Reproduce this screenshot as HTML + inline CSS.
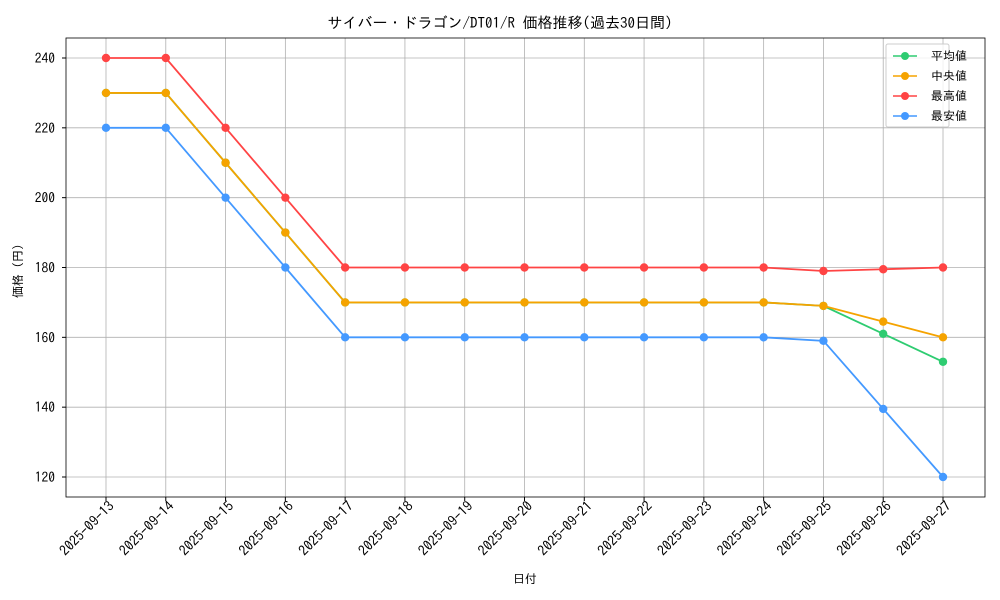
<!DOCTYPE html>
<html><head><meta charset="utf-8"><style>body{margin:0;background:#fff}svg{display:block;font-family:"IPAGothic","Noto Sans CJK JP",sans-serif}</style></head><body>
<svg width="1000" height="600" xmlns="http://www.w3.org/2000/svg">
<rect width="1000" height="600" fill="#fff"/>
<g id="grid" stroke="#b0b0b0" stroke-width="0.8"></g>
<rect x="66" y="38" width="919" height="459" fill="none" stroke="#000" stroke-width="0.8"/>
<g id="ticks"></g>
<g id="series"></g>
<text x="500" y="28" font-size="15" text-anchor="middle">サイバー・ドラゴン/DT01/R 価格推移(過去30日間)</text>
<text x="525" y="583" font-size="12" text-anchor="middle">日付</text>
<text transform="translate(22,268) rotate(-90)" font-size="12" text-anchor="middle">価格（円）</text>
<rect x="886" y="44" width="63" height="83" fill="#fff" fill-opacity="0.8" stroke="#ccc" rx="2"/>
<g font-size="12">
<line x1="893" y1="56" x2="917" y2="56" stroke="#2ecc71" stroke-width="1.5"/><circle cx="905" cy="56" r="4" fill="#2ecc71"/><text x="931" y="60">平均値</text>
<line x1="893" y1="76" x2="917" y2="76" stroke="#f5a300" stroke-width="1.5"/><circle cx="905" cy="76" r="4" fill="#f5a300"/><text x="931" y="80">中央値</text>
<line x1="893" y1="96" x2="917" y2="96" stroke="#ff4444" stroke-width="1.5"/><circle cx="905" cy="96" r="4" fill="#ff4444"/><text x="931" y="100">最高値</text>
<line x1="893" y1="116" x2="917" y2="116" stroke="#4499ff" stroke-width="1.5"/><circle cx="905" cy="116" r="4" fill="#4499ff"/><text x="931" y="120">最安値</text>
</g>
<script>
var ns="http://www.w3.org/2000/svg";
function el(p,t,a,txt){var e=document.createElementNS(ns,t);for(var k in a)e.setAttribute(k,a[k]);if(txt)e.textContent=txt;p.appendChild(e);return e;}
function X(i){return 106+i*59.786;}function Y(v){return 477-(v-120)*3.4917;}
var g=document.getElementById('grid'),tk=document.getElementById('ticks'),s=document.getElementById('series');
for(var v=120;v<=240;v+=20){el(g,'line',{x1:66,x2:985,y1:Y(v),y2:Y(v)});el(tk,'line',{x1:62,x2:66,y1:Y(v),y2:Y(v),stroke:'#000'});el(tk,'text',{x:55,y:Y(v)+5,'font-size':13.5,'text-anchor':'end'},v);}
for(var i=0;i<15;i++){var x=X(i);el(g,'line',{x1:x,x2:x,y1:38,y2:497});el(tk,'line',{x1:x,x2:x,y1:497,y2:501,stroke:'#000'});var d=13+i;el(tk,'text',{transform:'translate('+(x+9)+',507) rotate(-45)','font-size':14,'text-anchor':'end'},'2025-09-'+d);}
var data=[['#2ecc71',[230,230,210,190,170,170,170,170,170,170,170,170,169,161,153]],
['#f5a300',[230,230,210,190,170,170,170,170,170,170,170,170,169,164.5,160]],
['#ff4444',[240,240,220,200,180,180,180,180,180,180,180,180,179,179.5,180]],
['#4499ff',[220,220,200,180,160,160,160,160,160,160,160,160,159,139.5,120]]];
data.forEach(function(d){var pts=d[1].map(function(v,i){return X(i)+','+Y(v)}).join(' ');el(s,'polyline',{points:pts,fill:'none',stroke:d[0],'stroke-width':1.8});d[1].forEach(function(v,i){el(s,'circle',{cx:X(i),cy:Y(v),r:4.2,fill:d[0]});});});
</script>
</svg>
</body></html>
